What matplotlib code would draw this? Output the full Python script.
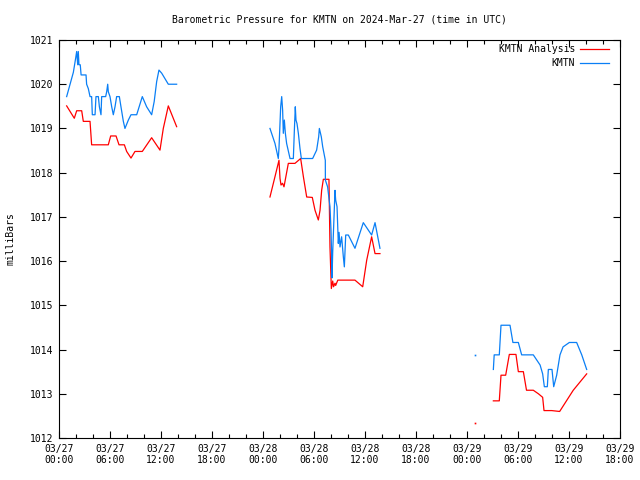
import numpy as np
import matplotlib
matplotlib.use('Agg')
import matplotlib.pyplot as plt

nan = np.nan

# hours since 2024-03-27 00:00 UTC, nan = gap in the data
obs_hours = [0.90, 1.69, 1.96, 2.08, 2.20, 2.27, 2.35, 2.50, 2.60, 3.18, 3.25, 3.45, 3.65, 3.84, 3.92,
             4.24, 4.35, 4.63, 4.75, 4.94, 5.02, 5.49, 5.61, 5.73, 5.80, 6.00, 6.20, 6.39, 6.59, 6.78,
             7.10, 7.29, 7.57, 7.76, 8.16, 8.47, 9.14, 9.80, 10.31, 10.90, 11.20, 11.49, 11.76, 12.08,
             12.86, 13.84, nan,
             24.82, 25.41, 25.80, 25.88, 26.08, 26.20, 26.31, 26.39, 26.51, 26.63, 26.78, 27.18, 27.57,
             27.69, 27.80, 27.88, 28.00, 28.16, 28.35, 28.51, 29.84, 30.31, 30.55, 30.63, 30.86, 31.02,
             31.33, 31.34, 31.60, 31.88, 32.00, 32.10, 32.12, 32.20, 32.47, 32.55, 32.71, 32.86, 32.95,
             33.06, 33.25, 33.45, 33.57, 33.73, 34.04, 34.82, 35.80, 36.78, 37.18, 37.76, nan,
             48.94, nan,
             51.10, 51.20, 51.80, 52.00, 53.06, 53.40, 54.04, 54.43, 55.80, 56.60, 56.90, 57.10, 57.45,
             57.57, 58.00, 58.20, 58.55, 58.94, 59.30, 60.04, 60.90, 61.50, 62.08]
obs_mb = [1019.72, 1020.27, 1020.59, 1020.74, 1020.44, 1020.74, 1020.44, 1020.44, 1020.21, 1020.21,
          1020.00, 1019.90, 1019.72, 1019.72, 1019.31, 1019.31, 1019.72, 1019.72, 1019.49, 1019.31,
          1019.72, 1019.72, 1019.83, 1020.00, 1019.83, 1019.72, 1019.49, 1019.31, 1019.49, 1019.72,
          1019.72, 1019.49, 1019.16, 1019.00, 1019.19, 1019.31, 1019.31, 1019.72, 1019.49, 1019.31,
          1019.61, 1020.06, 1020.32, 1020.25, 1020.00, 1020.00, nan,
          1019.00, 1018.66, 1018.32, 1018.55, 1019.49, 1019.72, 1019.41, 1018.89, 1019.19, 1018.89,
          1018.66, 1018.32, 1018.32, 1018.96, 1019.49, 1019.19, 1019.11, 1018.89, 1018.55, 1018.32,
          1018.32, 1018.51, 1018.81, 1019.00, 1018.81, 1018.59, 1018.28, 1017.83, 1017.68, 1017.23,
          1016.70, 1015.95, 1015.62, 1016.20, 1017.60, 1017.38, 1017.23, 1016.40, 1016.65, 1016.32,
          1016.55, 1016.10, 1015.87, 1016.59, 1016.59, 1016.29, 1016.87, 1016.59, 1016.87, 1016.29, nan,
          1013.88, nan,
          1013.55, 1013.88, 1013.88, 1014.55, 1014.55, 1014.16, 1014.16, 1013.88, 1013.88, 1013.65,
          1013.45, 1013.16, 1013.16, 1013.55, 1013.55, 1013.16, 1013.42, 1013.88, 1014.06, 1014.16,
          1014.16, 1013.88, 1013.55]

ana_hours = [0.90, 1.80, 2.08, 2.67, 2.86, 3.65, 3.84, 5.80, 6.08, 6.71, 7.06, 7.69, 7.96, 8.47, 8.94,
             9.80, 10.90, 11.88, 12.27, 12.86, 13.84, nan,
             24.82, 25.41, 25.88, 26.00, 26.12, 26.30, 26.47, 26.98, 27.76, 28.43, 28.75, 29.14, 29.80,
             30.12, 30.51, 30.71, 30.90, 31.10, 31.76, 31.88, 32.04, 32.20, 32.30, 32.47, 32.55, 32.80,
             34.82, 35.73, 36.20, 36.78, 37.18, 37.76, nan,
             48.94, nan,
             51.10, 51.80, 52.00, 52.55, 52.98, 53.76, 54.04, 54.63, 55.00, 55.80, 56.40, 56.90, 57.06,
             57.96, 58.90, 60.50, 62.08]
ana_mb = [1019.51, 1019.23, 1019.40, 1019.40, 1019.16, 1019.16, 1018.63, 1018.63, 1018.83, 1018.83,
          1018.63, 1018.63, 1018.48, 1018.33, 1018.48, 1018.48, 1018.79, 1018.51, 1019.00, 1019.51,
          1019.04, nan,
          1017.45, 1017.91, 1018.28, 1017.87, 1017.72, 1017.76, 1017.68, 1018.21, 1018.21, 1018.32,
          1017.91, 1017.45, 1017.44, 1017.15, 1016.93, 1017.15, 1017.60, 1017.85, 1017.85, 1016.32,
          1015.38, 1015.55, 1015.42, 1015.50, 1015.45, 1015.57, 1015.57, 1015.42, 1016.02, 1016.55,
          1016.17, 1016.17, nan,
          1012.33, nan,
          1012.84, 1012.84, 1013.42, 1013.42, 1013.89, 1013.89, 1013.50, 1013.50, 1013.08, 1013.08,
          1013.00, 1012.92, 1012.62, 1012.62, 1012.60, 1013.08, 1013.45]

tick_hours = [0, 6, 12, 18, 24, 30, 36, 42, 48, 54, 60, 66]
tick_labels = ['03/27\n00:00', '03/27\n06:00', '03/27\n12:00', '03/27\n18:00',
               '03/28\n00:00', '03/28\n06:00', '03/28\n12:00', '03/28\n18:00',
               '03/29\n00:00', '03/29\n06:00', '03/29\n12:00', '03/29\n18:00']

plt.rcParams['font.family'] = ['DejaVu Sans Mono']
plt.rcParams['font.size'] = 7

fig = plt.figure(figsize=(6.4, 4.8), dpi=100)
ax = fig.add_axes([59 / 640, 1 - 438 / 480, 561 / 640, 398 / 480])

red = '#ff0000'
blue = '#0a7ff5'
ax.plot(ana_hours, ana_mb, color=red, lw=0.9)
ax.plot(obs_hours, obs_mb, color=blue, lw=0.9)


def lone_points(xs, ys):
    # single readings between gaps, drawn as a dot
    px, py = [], []
    for i in range(len(xs)):
        if np.isnan(ys[i]):
            continue
        prev_gap = i == 0 or np.isnan(ys[i - 1])
        next_gap = i == len(xs) - 1 or np.isnan(ys[i + 1])
        if prev_gap and next_gap:
            px.append(xs[i])
            py.append(ys[i])
    return px, py


for xs, ys, c in [(ana_hours, ana_mb, red), (obs_hours, obs_mb, blue)]:
    px, py = lone_points(xs, ys)
    ax.plot(px, py, ls='none', marker='s', ms=1.2, color=c, mew=0)

ax.set_xlim(0, 66)
ax.set_ylim(1012, 1021)
ax.set_xticks(tick_hours)
ax.set_xticklabels(tick_labels)
ax.set_xticks(np.arange(0, 67, 2), minor=True)
ax.set_yticks(np.arange(1012, 1022, 1))
ax.tick_params(direction='in', top=True, right=True, length=5, width=0.8, pad=4)
ax.tick_params(which='minor', direction='in', top=True, bottom=True, length=3, width=0.8)
ax.yaxis.set_major_formatter(matplotlib.ticker.FormatStrFormatter('%d'))
for s in ax.spines.values():
    s.set_linewidth(0.8)

ax.set_title('Barometric Pressure for KMTN on 2024-Mar-27 (time in UTC)', fontsize=7, pad=12.5)
ax.set_ylabel('milliBars')
ax.yaxis.set_label_coords(-0.077, 0.5)

# gnuplot style key: right aligned text, sample line after it
key = [('KMTN Analysis', red), ('KMTN', blue)]
for i, (name, c) in enumerate(key):
    ky = 1 - (9 + 14 * i) / 398
    ax.text(0.9198, ky, name, transform=ax.transAxes, ha='right', va='center')
    ax.plot([0.9287, 0.9804], [ky, ky], transform=ax.transAxes, color=c, lw=0.9)

fig.savefig('out.png', dpi=100)
